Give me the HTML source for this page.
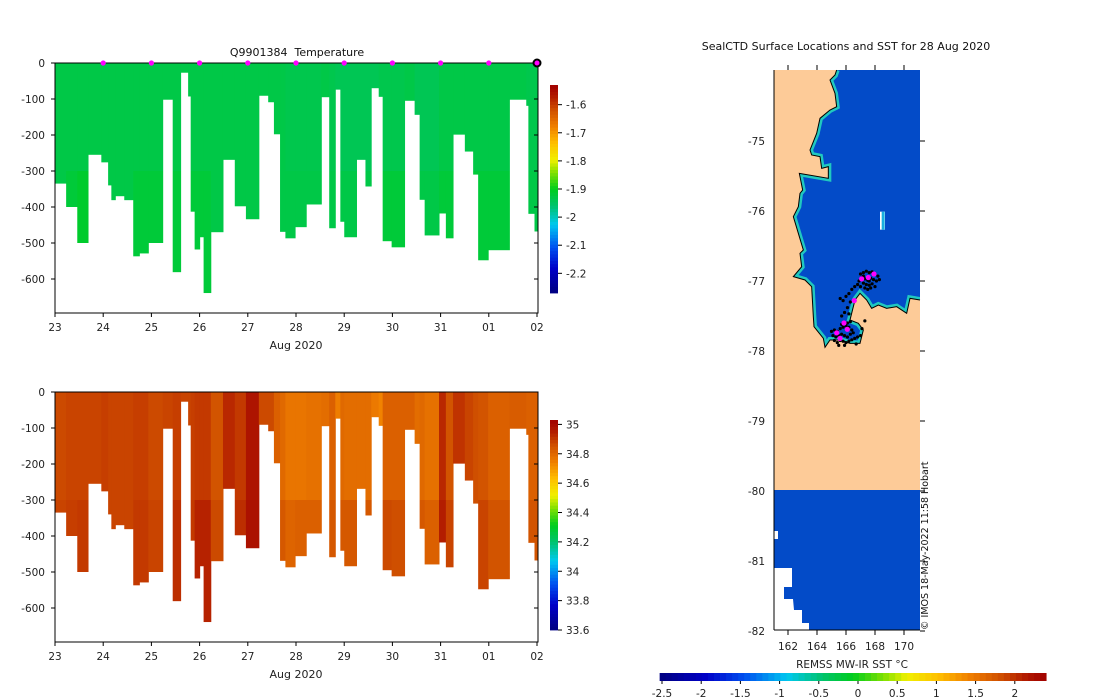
<!DOCTYPE html>
<html><head><meta charset="utf-8"><style>
html,body{margin:0;padding:0;background:#fff;}
svg{display:block;font-family:"DejaVu Sans","Liberation Sans",sans-serif;}
</style></head><body>
<svg id="fig" width="1100" height="700" viewBox="0 0 1100 700" xmlns="http://www.w3.org/2000/svg">
<g id="top"></g>
<g id="bot"></g>
<g id="map"></g>
</svg>
<script>
// ---- section data ----
const edges=[0,0.231,0.462,0.685,0.961,1.102,1.169,1.251,1.437,1.623,1.750,1.936,2.234,2.442,2.606,2.762,2.815,2.897,3.001,3.083,3.232,3.485,3.730,3.961,4.229,4.423,4.542,4.669,4.780,4.981,5.212,5.525,5.689,5.815,5.920,6.001,6.255,6.441,6.560,6.716,6.798,6.984,7.252,7.461,7.565,7.669,7.967,8.109,8.258,8.503,8.675,8.779,8.987,9.427,9.777,9.821,9.948,10.067];
const maxDepth=[335,400,500,255,276,340,381,370,381,537,529,500,102,581,27,93,413,518,484,639,470,269,398,434,91,109,198,469,487,456,393,95,459,74,441,484,269,343,70,94,495,512,105,144,380,479,418,487,199,246,310,548,520,102,119,419,468];
const tempTop=[-1.93,-1.93,-1.93,-1.93,-1.93,-1.93,-1.93,-1.93,-1.93,-1.93,-1.93,-1.93,-1.93,-1.93,-1.93,-1.93,-1.93,-1.93,-1.93,-1.93,-1.93,-1.93,-1.93,-1.93,-1.93,-1.93,-1.93,-1.93,-1.935,-1.935,-1.935,-1.93,-1.935,-1.94,-1.94,-1.94,-1.94,-1.94,-1.94,-1.935,-1.935,-1.935,-1.93,-1.94,-1.94,-1.94,-1.93,-1.93,-1.93,-1.93,-1.93,-1.93,-1.93,-1.93,-1.935,-1.935,-1.935];
const tempBot=[-1.93,-1.92,-1.91,-1.93,-1.93,-1.93,-1.93,-1.93,-1.93,-1.92,-1.92,-1.92,-1.93,-1.92,-1.92,-1.92,-1.92,-1.92,-1.92,-1.92,-1.93,-1.93,-1.93,-1.93,-1.93,-1.93,-1.93,-1.93,-1.93,-1.93,-1.93,-1.93,-1.93,-1.93,-1.93,-1.93,-1.93,-1.93,-1.93,-1.93,-1.92,-1.92,-1.93,-1.93,-1.93,-1.93,-1.92,-1.92,-1.92,-1.92,-1.92,-1.92,-1.92,-1.93,-1.93,-1.93,-1.93];
const salTop=[34.87,34.88,34.88,34.88,34.89,34.88,34.88,34.88,34.88,34.89,34.89,34.87,34.88,34.89,34.88,34.88,34.89,34.9,34.9,34.9,34.85,34.93,34.9,34.97,34.87,34.87,34.82,34.8,34.77,34.77,34.78,34.79,34.82,34.75,34.8,34.79,34.79,34.79,34.76,34.74,34.82,34.82,34.82,34.79,34.8,34.78,34.93,34.85,34.91,34.88,34.86,34.85,34.82,34.83,34.82,34.82,34.82];
const salBot=[34.88,34.89,34.9,34.88,34.89,34.88,34.88,34.88,34.88,34.9,34.9,34.88,34.88,34.92,34.88,34.88,34.9,34.94,34.94,34.94,34.87,34.94,34.92,34.98,34.87,34.87,34.84,34.84,34.81,34.82,34.82,34.79,34.84,34.75,34.84,34.84,34.79,34.84,34.76,34.74,34.87,34.86,34.82,34.79,34.84,34.82,34.95,34.88,34.93,34.88,34.86,34.88,34.85,34.83,34.85,34.85,34.85];
const dayTicks=["23","24","25","26","27","28","29","30","31","01","02"];
const depthTicks=[0,-100,-200,-300,-400,-500,-600];
const tempCbTicks=[-1.6,-1.7,-1.8,-1.9,-2,-2.1,-2.2];
const salCbTicks=[35,34.8,34.6,34.4,34.2,34,33.8,33.6];
const markerDays=[1,2,3,4,5,6,7,8,9];
// ---- map data ----
const ctdLon=[167.0,167.2,167.4,167.6,167.8,168.0,168.2,167.1,167.3,167.5,167.7,167.9,168.1,166.9,167.2,167.4,167.6,167.8,168.0,167.3,167.5,167.7,166.8,166.6,166.4,166.2,166.0,165.8,165.6,166.3,166.1,165.9,165.7,166.2,167.0,168.3,167.2,167.6,
165.0,165.2,165.4,165.6,165.8,166.0,166.2,166.4,165.1,165.3,165.5,165.7,165.9,166.1,166.3,166.5,165.2,165.4,165.6,165.8,166.0,166.2,166.4,166.6,166.8,167.0,166.7,165.5,165.9,166.1,166.3,167.3,167.1,165.7];
const ctdLat=[-76.90,-76.88,-76.86,-76.88,-76.87,-76.90,-76.93,-76.95,-76.97,-76.99,-76.96,-76.98,-77.00,-77.00,-77.03,-77.05,-77.06,-77.04,-77.08,-77.10,-77.12,-77.10,-77.05,-77.08,-77.12,-77.18,-77.22,-77.28,-77.25,-77.30,-77.38,-77.45,-77.50,-77.47,-77.08,-76.98,-76.93,-77.00,
-77.72,-77.70,-77.72,-77.68,-77.66,-77.64,-77.66,-77.70,-77.78,-77.80,-77.78,-77.76,-77.78,-77.80,-77.76,-77.74,-77.85,-77.88,-77.85,-77.86,-77.88,-77.86,-77.84,-77.82,-77.80,-77.78,-77.90,-77.92,-77.92,-77.60,-77.58,-77.57,-77.68,-77.62];
const surfLon=[167.08,167.54,167.93,166.57,165.86,166.09,165.36,165.59];
const surfLat=[-76.97,-76.95,-76.90,-77.28,-77.60,-77.69,-77.74,-77.82];
const latTicks=[-75,-76,-77,-78,-79,-80,-81,-82];
const lonTicks=[162,164,166,168,170];
const sstTicks=[-2.5,-2,-1.5,-1,-0.5,0,0.5,1,1.5,2];

const NS="http://www.w3.org/2000/svg";
function mk(parent,tag,attrs,text){const e=document.createElementNS(NS,tag);for(const k in attrs)e.setAttribute(k,attrs[k]);if(text!==undefined)e.textContent=text;parent.appendChild(e);return e;}
const stops=[[0,[0,0,127]],[0.12,[0,0,200]],[0.22,[0,80,240]],[0.33,[0,200,240]],[0.42,[0,195,110]],[0.5,[0,205,30]],[0.58,[128,224,0]],[0.64,[240,240,0]],[0.72,[255,192,0]],[0.8,[240,128,0]],[0.88,[208,80,0]],[0.95,[176,24,0]],[1,[160,0,0]]];
function cmap(t){t=Math.max(0,Math.min(1,t));for(let i=1;i<stops.length;i++){if(t<=stops[i][0]){const a=stops[i-1],b=stops[i];const f=(t-a[0])/(b[0]-a[0]);const c=a[1].map((v,k)=>Math.round(v+(b[1][k]-v)*f));return `rgb(${c[0]},${c[1]},${c[2]})`;}}return 'rgb(160,0,0)';}

function section(g,y0,vmin,vmax,topV,botV,cbY0,cbY1,cbTicks,cbName,withMarkers,title){
  const xL=55,xR=538,yBot=y0+250;
  const xs=d=>xL+d*48.2, ys=z=>y0+z*0.36;
  const cv=v=>(v-vmin)/(vmax-vmin);
  const clip=mk(g,'clipPath',{id:'c'+y0});mk(clip,'rect',{x:xL,y:y0,width:xR-xL,height:yBot-y0});
  const cols=mk(g,'g',{'clip-path':`url(#c${y0})`});
  for(let i=0;i<maxDepth.length;i++){
    const x=xs(edges[i]),w=xs(edges[i+1])-x+0.5,d=maxDepth[i];
    const split=Math.min(d,300);
    const r1=mk(cols,'rect',{x:x,y:ys(0),width:w,height:ys(split)-ys(0),fill:cmap(cv(topV[i]))});
    
    
    if(d>300){const r2=mk(cols,'rect',{x:x,y:ys(300),width:w,height:ys(d)-ys(300),fill:cmap(cv(botV[i]))});
      
      }
  }
  mk(g,'rect',{x:xL,y:y0,width:xR-xL,height:yBot-y0,fill:'none',stroke:'#000','stroke-width':1,});
  depthTicks.forEach(v=>{const y=ys(-v);mk(g,'line',{x1:xL-4,x2:xL,y1:y,y2:y,stroke:'#000'});mk(g,'line',{x1:xR-4,x2:xR,y1:y,y2:y,stroke:'#000'});
    const t=mk(g,'text',{x:xL-10,y:y+4,'text-anchor':'end','font-size':10.5,fill:'#222'},String(v));});
  dayTicks.forEach((s,i)=>{const x=xs(i);mk(g,'line',{x1:x,x2:x,y1:yBot,y2:yBot+4,stroke:'#000'});
    const t=mk(g,'text',{x:x,y:yBot+18,'text-anchor':'middle','font-size':10.5,fill:'#222'},s);});
  mk(g,'text',{x:296,y:yBot+36,'text-anchor':'middle','font-size':11,fill:'#222',},'Aug 2020');
  if(title)mk(g,'text',{x:297,y:y0-7,'text-anchor':'middle','font-size':11,fill:'#111',},title);
  if(withMarkers){markerDays.forEach(d=>{const c=mk(g,'circle',{cx:xs(d),cy:y0,r:2.6,fill:'#ff00ff'});});
    mk(g,'circle',{cx:xs(10),cy:y0,r:3.5,fill:'#ff00ff',stroke:'#000','stroke-width':2,});}
  const cb=mk(g,'g',{});
  const N=64;for(let k=0;k<N;k++){const y=cbY1-(k+1)*(cbY1-cbY0)/N;mk(cb,'rect',{x:550,y:y,width:8,height:(cbY1-cbY0)/N+0.4,fill:cmap((k+0.5)/N)});}
  const cy=v=>cbY1-(v-vmin)/(vmax-vmin)*(cbY1-cbY0);
  cbTicks.forEach(v=>{const y=cy(v);mk(cb,'line',{x1:558,x2:562,y1:y,y2:y,stroke:'#000'});
    const t=mk(cb,'text',{x:566,y:y+4,'font-size':10.5,fill:'#222'},String(v));});
}
section(document.getElementById('top'),63,-2.27,-1.53,tempTop,tempBot,85,293,tempCbTicks,'temperature-colorbar',true,'Q9901384\u00a0\u00a0Temperature');
section(document.getElementById('bot'),392,33.6,35.03,salTop,salBot,420,630,salCbTicks,'salinity-colorbar',false,null);

// ---- map ----
const m=document.getElementById('map');
const mx=lon=>788+(lon-162)*14.5, my=lat=>141+(-75-lat)*70;
const zx=v=>740+v/3, zy=v=>60+v/3;
mk(m,'text',{x:846,y:50,'text-anchor':'middle','font-size':11,fill:'#111',},'SealCTD Surface Locations and SST for 28 Aug 2020');
mk(m,'rect',{x:774,y:70,width:146,height:560,fill:'#fdcb98',});
const coast=[[290,30],[540,30],[540,720],[510,715],[500,760],[470,740],[440,745],[415,735],[395,745],[380,720],[360,700],[345,720],[330,780],[355,790],[370,810],[360,850],[330,850],[300,840],[270,840],[255,862],[250,835],[222,800],[220,770],[215,680],[195,660],[160,650],[185,620],[180,580],[190,570],[160,470],[175,440],[180,400],[188,390],[178,340],[265,355],[265,320],[245,325],[240,290],[215,285],[210,270],[230,220],[240,175],[270,150],[290,140],[285,100],[270,60],[285,45]];
const coastPts=coast.map(p=>zx(p[0])+','+zy(p[1])).join(' ');
const shorePts=coast.slice(2).concat([coast[0]]).map(p=>zx(p[0])+','+zy(p[1])).join(' ');
const clipC=mk(m,'clipPath',{id:'coastclip'});mk(clipC,'polygon',{points:coastPts});
mk(m,'polygon',{points:coastPts,fill:'#034bc8',});
mk(m,'polyline',{points:shorePts,fill:'none',stroke:'#20c8c0','stroke-width':6,'clip-path':'url(#coastclip)',});
mk(m,'polyline',{points:shorePts,fill:'none',stroke:'#000','stroke-width':1,});
mk(m,'rect',{x:zx(420),y:zy(455),width:5,height:18,fill:'#fff'});
mk(m,'rect',{x:zx(425),y:zy(455),width:3,height:18,fill:'#18b0e0'});
mk(m,'rect',{x:774,y:490,width:146,height:140,fill:'#034bc8',});
mk(m,'polygon',{points:'774,568 792,568 792,587 784,587 784,599 793,599 794,610 802,610 802,623 809,623 809,630 774,630',fill:'#fff'});
mk(m,'rect',{x:774,y:531,width:4,height:8,fill:'#fff'});
mk(m,'line',{x1:774,x2:774,y1:70,y2:630,stroke:'#000','stroke-width':1});
mk(m,'line',{x1:774,x2:920,y1:630,y2:630,stroke:'#000','stroke-width':1});
for(let i=0;i<ctdLon.length;i++){const c=mk(m,'circle',{cx:mx(ctdLon[i]),cy:my(ctdLat[i]),r:1.6,fill:'#000'});
  
  }
for(let i=0;i<surfLon.length;i++){const c=mk(m,'circle',{cx:mx(surfLon[i]),cy:my(surfLat[i]),r:2.6,fill:'#ff00ff'});
  
  }
latTicks.forEach(v=>{const y=my(v);mk(m,'line',{x1:920,x2:925,y1:y,y2:y,stroke:'#000'});
  const t=mk(m,'text',{x:765,y:y+4,'text-anchor':'end','font-size':10.5,fill:'#222'},String(v));});
lonTicks.forEach(v=>{const x=mx(v);mk(m,'line',{x1:x,x2:x,y1:65,y2:70,stroke:'#000'});mk(m,'line',{x1:x,x2:x,y1:630,y2:635,stroke:'#000'});
  const t=mk(m,'text',{x:x,y:650,'text-anchor':'middle','font-size':10.5,fill:'#222'},String(v));});
mk(m,'text',{x:0,y:0,transform:'translate(928,630) rotate(-90)','font-size':9.5,fill:'#111',},'© IMOS 18-May-2022 11:58 Hobart');
mk(m,'text',{x:852,y:668,'text-anchor':'middle','font-size':10.5,fill:'#222',},'REMSS MW-IR SST °C');
const sb=mk(m,'g',{});
const sx=v=>662+(v+2.5)*78.4; const smin=-2.53,smax=2.4;const NS2=64;
for(let k=0;k<NS2;k++){const x0=sx(smin+(smax-smin)*k/NS2);mk(sb,'rect',{x:x0,y:673,width:(smax-smin)/NS2*78.4+0.4,height:8,fill:cmap((k+0.5)/NS2)});}
sstTicks.forEach(v=>{const x=sx(v);mk(sb,'line',{x1:x,x2:x,y1:681,y2:684,stroke:'#000'});
  const t=mk(sb,'text',{x:x,y:697,'text-anchor':'middle','font-size':10.5,fill:'#222'},String(v));});
</script>
</body></html>
